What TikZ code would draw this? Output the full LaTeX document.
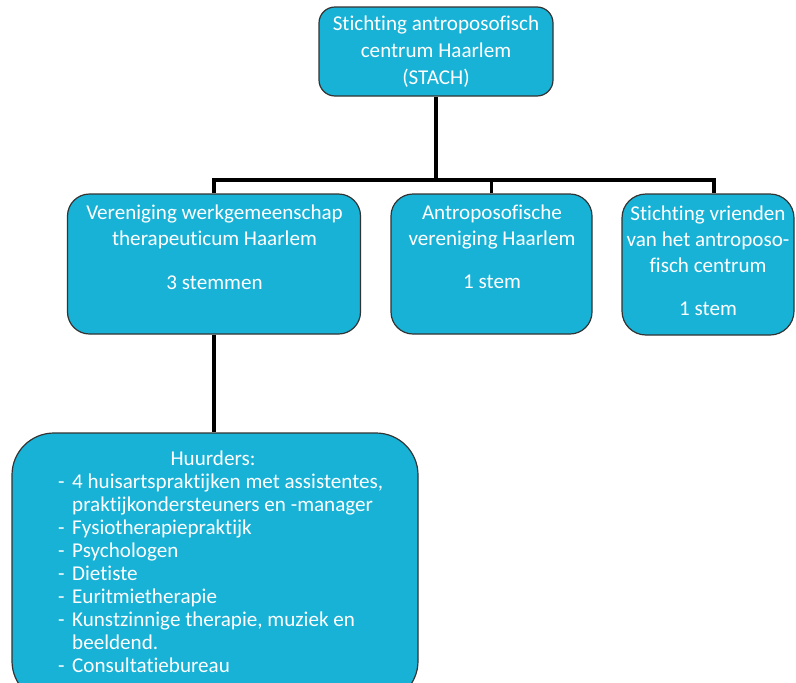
\documentclass[tikz,border=0pt]{standalone}
\usepackage{fontspec}
\setmainfont[Ligatures=NoCommon]{Carlito}
\definecolor{boxblue}{RGB}{23,178,214}

\begin{document}
\begin{tikzpicture}[x=1pt,y=-1pt,
    box/.style={draw=black!80, line width=1.2pt, fill=boxblue, rounded corners=#1, inner sep=0pt},
    box/.default=18pt,
    txt/.style={text=white, align=center, inner sep=0pt, anchor=base,
        font=\fontsize{21.1}{26}\selectfont},
    link/.style={line width=3.5pt}]
    % Page frame
    \clip (0,0) rectangle (796,683);
    \fill[white] (0,0) rectangle (796,683);

    % Boxes
    \node[box=16pt, minimum width=234pt, minimum height=89pt] (stach) at (436,51.5) {};
    \node[box=22pt, minimum width=293pt, minimum height=140pt] (werk) at (214,264) {};
    \node[box=22pt, minimum width=201pt, minimum height=140pt] (antro) at (491.5,264) {};
    \node[box=24pt, minimum width=172pt, minimum height=141pt] (vrienden) at (708,264.5) {};
    \node[box=42pt, minimum width=406pt, minimum height=270pt] (huur) at (215,568) {};

    % Texts (anchored at the baseline of the last line)
    \node[txt, font=\fontsize{21.1}{27}\selectfont] (stachtext) at (436,84)
        {Stichting antroposofisch\\centrum Haarlem\\(STACH)};
    \node[txt] (werktext) at (214.5,289)
        {Vereniging werkgemeenschap\\therapeuticum Haarlem\\[18pt]3 stemmen};
    \node[txt] (antrotext) at (492,288)
        {Antroposofische\\vereniging Haarlem\\[17pt]1 stem};
    \node[txt] (vriendentext) at (708,315)
        {Stichting vrienden\\van het antroposo-\\fisch centrum\\[17pt]1 stem};
    \node[txt] (huurtitle) at (213,465) {Huurders:};
    \node[txt, align=left, anchor=base west, font=\fontsize{21.1}{23}\selectfont] (huurlist) at (58,672)
        {\makebox[14pt][l]{-}4 huisartspraktijken met assistentes,\\
         \hspace*{14pt}praktijkondersteuners en -manager\\
         \makebox[14pt][l]{-}Fysiotherapiepraktijk\\
         \makebox[14pt][l]{-}Psychologen\\
         \makebox[14pt][l]{-}Dietiste\\
         \makebox[14pt][l]{-}Euritmietherapie\\
         \makebox[14pt][l]{-}Kunstzinnige therapie, muziek en\\
         \hspace*{14pt}beeldend.\\
         \makebox[14pt][l]{-}Consultatiebureau};

    % Connectors
    \coordinate (bar) at (436,180);
    \draw[link] (stach) -- (bar);
    \draw[link] (werk.north) |- (bar) -| ([xshift=6pt]vrienden.north);
    \draw[link] (antro.north) |- (bar);
    \draw[link] (werk.south) -- (werk.south |- huur.north);
\end{tikzpicture}
\end{document}
